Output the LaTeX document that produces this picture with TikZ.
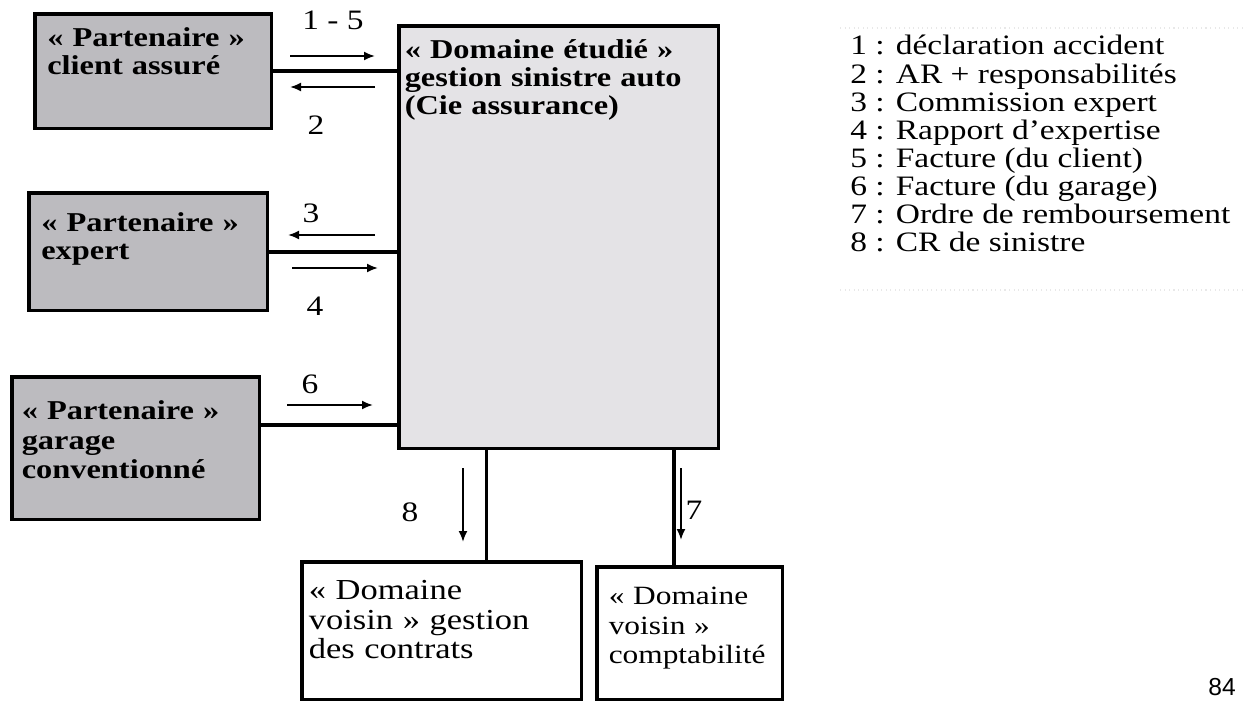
\documentclass[tikz,border=0pt]{standalone}
\usepackage{fontspec}
\setmainfont{Liberation Serif}[FakeStretch=1.19]
\newfontfamily\pagefont{Liberation Sans}
\usetikzlibrary{positioning,arrows.meta}
\definecolor{partgray}{RGB}{188,187,191}
\definecolor{domgray}{RGB}{228,227,230}

\begin{document}
\begin{tikzpicture}[
    x=0.02cm, y=-0.02cm,
    every node/.style={font=\fontsize{16}{16}\selectfont},
    partner/.style={rectangle, draw=black, line width=2pt, fill=partgray, font=\fontsize{15.5}{16}\selectfont\bfseries, align=left, anchor=north west, inner xsep=0.25cm, inner ysep=0.2cm, text height=0.45cm},
    studied/.style={partner, fill=domgray, inner xsep=0.12cm},
    neighbour/.style={partner, fill=white, font=\fontsize{16.5}{17}\selectfont, inner xsep=0.14cm},
    link/.style={line width=2pt},
    flow/.style={-{Latex[length=2.2mm,width=1.8mm]}, line width=1.1pt},
    num/.style={inner sep=0pt}
]
\useasboundingbox (0,0) rectangle (1247,702);

% Partners (left column)
\node[partner, text width=4.24cm, text depth=1.45cm] (client) at (33,12) {« Partenaire »\\client assuré};
\node[partner, text width=4.28cm, text depth=1.39cm, text height=0.57cm] (expert) at (27,191) {« Partenaire »\\expert};
\node[partner, text width=4.56cm, text depth=1.81cm, text height=0.65cm, inner xsep=0.2cm, font=\fontsize{15.5}{17}\selectfont\bfseries] (garage) at (10,375) {« Partenaire »\\garage\\conventionné};

% Studied domain
\node[studied, text width=6.16cm, text depth=7.61cm] (main) at (397,24) {« Domaine étudié »\\gestion sinistre auto\\(Cie assurance)};

% Neighbour domains
\node[neighbour, text width=5.32cm, text depth=1.81cm, text height=0.55cm] (contrats) at (300,560) {« Domaine\\voisin » gestion\\des contrats};
\node[neighbour, text width=3.24cm, text depth=1.71cm, text height=0.55cm, inner xsep=0.24cm, font=\fontsize{15}{17}\selectfont] (compta) at (595,565) {« Domaine\\voisin »\\comptabilité};

% Links
\draw[link] (client.east) -- (client.east -| main.west);
\draw[link] (expert.east) -- (expert.east -| main.west);
\draw[link] ([yshift=0.47cm]garage.east) -- ([yshift=0.47cm]garage.east -| main.west);
\draw[link] ([xshift=0.9cm]contrats.north) -- ([xshift=0.9cm]contrats.north |- main.south);
\draw[link] ([xshift=-0.32cm]compta.north) -- ([xshift=-0.32cm]compta.north |- main.south);

% Flows
\coordinate (f15a) at (290,56);  \coordinate (f15b) at (375,56);
\coordinate (f2a) at (375,87);   \coordinate (f2b) at (290,87);
\coordinate (f3a) at (375,235);  \coordinate (f3b) at (288,235);
\coordinate (f4a) at (292,268);  \coordinate (f4b) at (378,268);
\coordinate (f6a) at (287,405);  \coordinate (f6b) at (373,405);
\coordinate (f8a) at (463,468);  \coordinate (f8b) at (463,542);
\coordinate (f7a) at (681,468);  \coordinate (f7b) at (681,540);
\draw[flow] (f15a) -- (f15b);
\draw[flow] (f2a) -- (f2b);
\draw[flow] (f3a) -- (f3b);
\draw[flow] (f4a) -- (f4b);
\draw[flow] (f6a) -- (f6b);
\draw[flow] (f8a) -- (f8b);
\draw[flow] (f7a) -- (f7b);

\node[num] (n15) at (333,20) {1 - 5};
\node[num] (n2) at (316,125) {2};
\node[num] (n3) at (311,213) {3};
\node[num] (n4) at (315,306) {4};
\node[num] (n6) at (310,384) {6};
\node[num] (n8) at (410,512) {8};
\node[num] (n7) at (694,510) {7};

% Legend
\draw[gray!18, dotted, line width=0.6pt] (840,28) -- (1247,28);
\draw[gray!18, dotted, line width=0.6pt] (840,290) -- (1247,290);
\node[anchor=north west, align=left, inner sep=0pt] (legend) at (850,35) {1 : déclaration accident\\2 : AR + responsabilités\\3 : Commission expert\\4 : Rapport d'expertise\\5 : Facture (du client)\\6 : Facture (du garage)\\7 : Ordre de remboursement\\8 : CR de sinistre};

\node[font=\pagefont\fontsize{14}{14}\selectfont] (page) at (1222,687) {84};
\end{tikzpicture}
\end{document}
